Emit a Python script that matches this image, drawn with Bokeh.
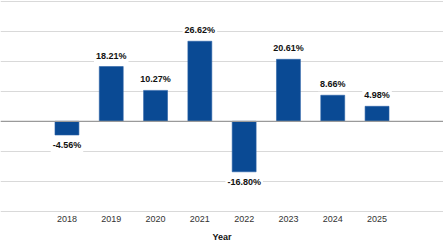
from bokeh.plotting import figure
from bokeh.models import ColumnDataSource, FixedTicker, Span, Range1d
from bokeh.core.properties import value
from bokeh.embed import file_html
from bokeh.resources import INLINE

# Annual returns by year
years = [2018, 2019, 2020, 2021, 2022, 2023, 2024, 2025]
returns = [-4.56, 18.21, 10.27, 26.62, -16.80, 20.61, 8.66, 4.98]
grid_levels = [-30, -20, -10, 0, 10, 20, 30, 40]

labels = [f"{v:.2f}%" for v in returns]
# screen offsets: above positive bars, below negative ones
offsets = [-11 if v >= 0 else 10.5 for v in returns]
source = ColumnDataSource(dict(year=years, ret=returns, label=labels, off=offsets))

FONT = "Liberation Sans"

p = figure(
    width=443, height=247,
    frame_width=443, frame_height=213,
    x_range=Range1d(2016.5, 2026.5),
    y_range=Range1d(-30.67, 40.17),
    output_backend="svg", toolbar_location=None,
    min_border=0,
)
p.outline_line_color = None
p.background_fill_color = "white"

p.vbar(x="year", top="ret", bottom=0, width=0.54, source=source,
       fill_color="#0a4a94", line_color="#2a62a6", line_width=0.6)

# gridlines every 10%
p.xgrid.visible = False
p.ygrid.ticker = FixedTicker(ticks=grid_levels)
p.ygrid.grid_line_color = "#d9d9d9"
p.ygrid.grid_line_width = 1.2
p.yaxis.visible = False

zero = Span(location=0, dimension="width", line_color="#9a9a9a", line_width=1.2)
p.add_layout(zero)

# value labels, boxed in white so they break the gridlines
p.text(x="year", y="ret", text="label", y_offset="off", source=source,
       text_align="center", text_baseline="middle",
       text_font=value(FONT), text_font_size="9px",
       text_font_style="bold", text_color="#111111",
       background_fill_color="white", padding=2)

ax = p.xaxis[0]
ax.ticker = FixedTicker(ticks=years)
ax.axis_line_color = None
ax.major_tick_line_color = None
ax.minor_tick_line_color = None
ax.major_tick_out = 0
ax.major_label_standoff = 2
ax.major_label_text_font = FONT
ax.major_label_text_font_size = "9px"
ax.major_label_text_color = "#333333"
ax.axis_label = "Year"
ax.axis_label_standoff = 7
ax.axis_label_text_font = FONT
ax.axis_label_text_font_size = "9px"
ax.axis_label_text_font_style = "bold"
ax.axis_label_text_color = "#111111"

open("out.html", "w").write(file_html(p, INLINE))
